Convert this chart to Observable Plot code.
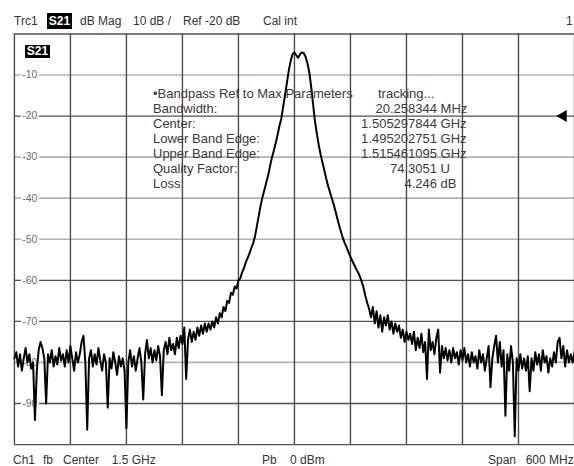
<!DOCTYPE html>
<html><head><meta charset="utf-8">
<script src="https://cdn.jsdelivr.net/npm/d3@7"></script>
<script src="https://cdn.jsdelivr.net/npm/@observablehq/plot@0.6"></script>
<style>
html,body{margin:0;padding:0;background:#fff;overflow:hidden;width:574px;height:466px;}
#wrap{position:relative;width:574px;height:466px;overflow:hidden;font-family:"Liberation Sans",Arial,sans-serif;}
.t{position:absolute;white-space:pre;color:#333;font-size:12px;line-height:14px;}
.box{background:#000;color:#fff;font-weight:bold;text-align:center;}
.ann{position:absolute;white-space:pre;color:#3a3a3a;font-size:13px;line-height:15px;}
#chart{position:absolute;left:0;top:28px;}
</style></head><body><div id="wrap"><div id="chart"></div></div>
<script>
// ---- data ----
const sweepStartMHz = 1200;
const sweepStopMHz = 1800;
const traceDb = [
 -79,-77.5,-81,-78,-82,-79,-76.5,-80,-78,-81.5,-80,
 -94,
 -82,-77,-75,-76.5,-79,-90,-78,-80,-77,-81,-78.5,-80.5,-76.5,-79.5,-78,-81,-77,-80,-76,-79,-82,-77.5,-80,-78,-75,-73.5,-80,
 -96.4,
 -79,-77,-81,-78,-80.5,-76.5,-79.5,-82,-78,-80,-91,-79,-81.5,-77.5,-80,-83,-78.5,-81,-79,-82,
 -96,
 -80,-77,-81,-78.5,-82,-79,-76.5,-80,-89,-78,-74.5,-79,-76.5,-80,-77,-79.5,-76,-78.5,-88,-77,-75,-78,-74,-77,-75.5,-78,-74,-76.5,-73.5,-75.5,-71.5,-84,
 -74.5,-72,-75,-72.5,-74.5,-71.5,-73.5,-71,-73,-70.5,-72.5,-70.5,-72,-70,-71.5,-69,-70.5,-68,-69,-66.5,-67.5,-65,-65.5,-63,-63.5,-61.5,-62,-60,-59.5,-58,-57,-55.5,
 -54.5,-53.3,-52,-50.8,-49,-46.5,-44,-41.5,-39.5,-37.8,-36,-34.3,-32,-30,-28.3,-26.5,-24.5,-22.3,-20.5,-17.6,-14.8,-11.8,-8.8,-6.5,-4.9,-4.5,-5.2,-5.8,-4.9,-4.5,-4.7,-5.6,-7.2,-9.5,-13,-17.2,-21.3,-24.3,-27,-29.3,-31.3,-33.2,-35.2,-37,-38.5,-40,-41.5,-43.2,-45,-46.7,-48.3,-49.8,-51,-52,-53.2,-54.3,-55.3,-56.2,-57.2,-58,-59,-60.3,-61.8,-63.8,-65.5,-67,
 -69,-66.5,-70.5,-67.5,-71.5,-68.5,-72.5,-69,-71,-68.5,-72,-70,-73,-70.5,-72.5,-71,-74,-72,-75,-72.5,-74.5,-73,-75.5,-72.5,-77,-74,-76.5,-73,-77.5,-75,
 -84,-72,-77,-75,-78,-74,-72,-82.5,-76,-79,-76.5,-79.5,-77,-80,-76.5,-79,-77.5,-80.5,-77,-79.5,-76.5,-80,-78,-81,-77.5,-80,-78.5,-81.5,-77,-80,-78,-82,-79,
 -76,-86,-79,-76,-73.5,-80,-75,-81,-77,-93,-78,-82,-76,-80,-98,-79,-82,-78,-81.5,-79,-82,-78.5,-87,-79,-82,-77.5,-80.5,-78,-82,-77,-80,-78.5,-82.5,-79,-81,-77.5,-80,-75,-74,-79,-76,-81,-77,-80,-78,-80,-77.5
];
const gridFreqMHz = [1200,1260,1320,1380,1440,1500,1560,1620,1680,1740,1800];
const gridDb = [0,-10,-20,-30,-40,-50,-60,-70,-80,-90,-100];
const yTickLabels = [-10,-20,-30,-40,-50,-60,-70,-80,-90];
const refLevelDb = -20;
const headerTexts = ["Trc1","S21","dB Mag","10 dB /","Ref -20 dB","Cal int","1"];
const footerTexts = ["Ch1","fb","Center","1.5 GHz","Pb","0 dBm","Span","600 MHz"];
const traceTag = "S21";
const paramLabels = ["•Bandpass Ref to Max Parameters","Bandwidth:","Center:","Lower Band Edge:","Upper Band Edge:","Quality Factor:","Loss:"];
const paramStatus = "tracking...";
const paramValues = ["20.258344","1.505297844","1.495202751","1.515461095","74.3051","4.246"];
const paramUnits = ["MHz","GHz","GHz","GHz","U","dB"];

// ---- chart ----
const stepMHz = (sweepStopMHz - sweepStartMHz) / (traceDb.length - 1);
const trace = traceDb.map((db, i) => ({f: sweepStartMHz + i * stepMHz, db}));
const softLines = new Set([-10,-30,-40,-50,-80]);

const plot = Plot.plot({
  width: 578, height: 423,
  marginLeft: 14, marginRight: 0, marginTop: 5.5, marginBottom: 4,
  x: {domain: [sweepStartMHz, sweepStopMHz], axis: null},
  y: {domain: [-100, 0], axis: null},
  style: {background: "transparent", overflow: "visible"},
  marks: [
    Plot.ruleY(gridDb.filter(d => softLines.has(d)), {stroke: "#b2b2b2", strokeWidth: 1.7}),
    Plot.ruleY(gridDb.filter(d => !softLines.has(d)), {stroke: "#505050", strokeWidth: 1.4}),
    Plot.ruleX(gridFreqMHz, {stroke: "#4a4a4a", strokeWidth: 1.4}),
    Plot.text(yTickLabels, {y: d => d, frameAnchor: "left", dx: 8, text: d => String(d), textAnchor: "start",
      fill: "#6a6a6a", stroke: "white", strokeWidth: 4, fontSize: 10.5, fontFamily: "Liberation Sans, Arial, sans-serif"}),
    Plot.lineY(trace, {x: "f", y: "db", stroke: "#000", strokeWidth: 2, strokeLinejoin: "round"}),
    Plot.dot([refLevelDb], {x: () => 1788, y: d => d, symbol: "triangle", r: 4.5, fill: "#000", stroke: "none", rotate: -90})
  ]
});
document.getElementById("chart").appendChild(plot);

// ---- overlay texts ----
const wrap = d3.select("#wrap");
function put(text, left, top, cls, extra) {
  const el = wrap.append("div").attr("class", cls).style("left", left + "px").style("top", top + "px").text(text);
  if (extra) for (const k in extra) el.style(k, extra[k]);
  return el;
}
// header
const headerX = [14, 47, 80, 133, 183, 263, 566];
headerTexts.forEach((t, i) => {
  if (i === 1) put(t, headerX[i], 13, "t box", {width: "25px", height: "16px", "line-height": "16px"});
  else put(t, headerX[i], 14, "t");
});
// trace tag in plot
put(traceTag, 25, 45, "t box", {width: "25px", height: "13px", "line-height": "13px", "font-size": "12px"});
// footer
const footerX = [13, 43, 63, 111.7, 262, 290, 488, 525.7];
footerTexts.forEach((t, i) => put(t, footerX[i], 453, "t"));
// parameters
paramLabels.forEach((t, i) => put(t, 153, 85.5 + i * 15, "ann"));
put(paramStatus, 378, 85.5, "ann");
paramValues.forEach((v, i) => {
  put(v, 0, 85.5 + (i + 1) * 15, "ann", {width: "437px", "text-align": "right"});
  put(paramUnits[i], 440.6, 85.5 + (i + 1) * 15, "ann");
});
</script></body></html>
